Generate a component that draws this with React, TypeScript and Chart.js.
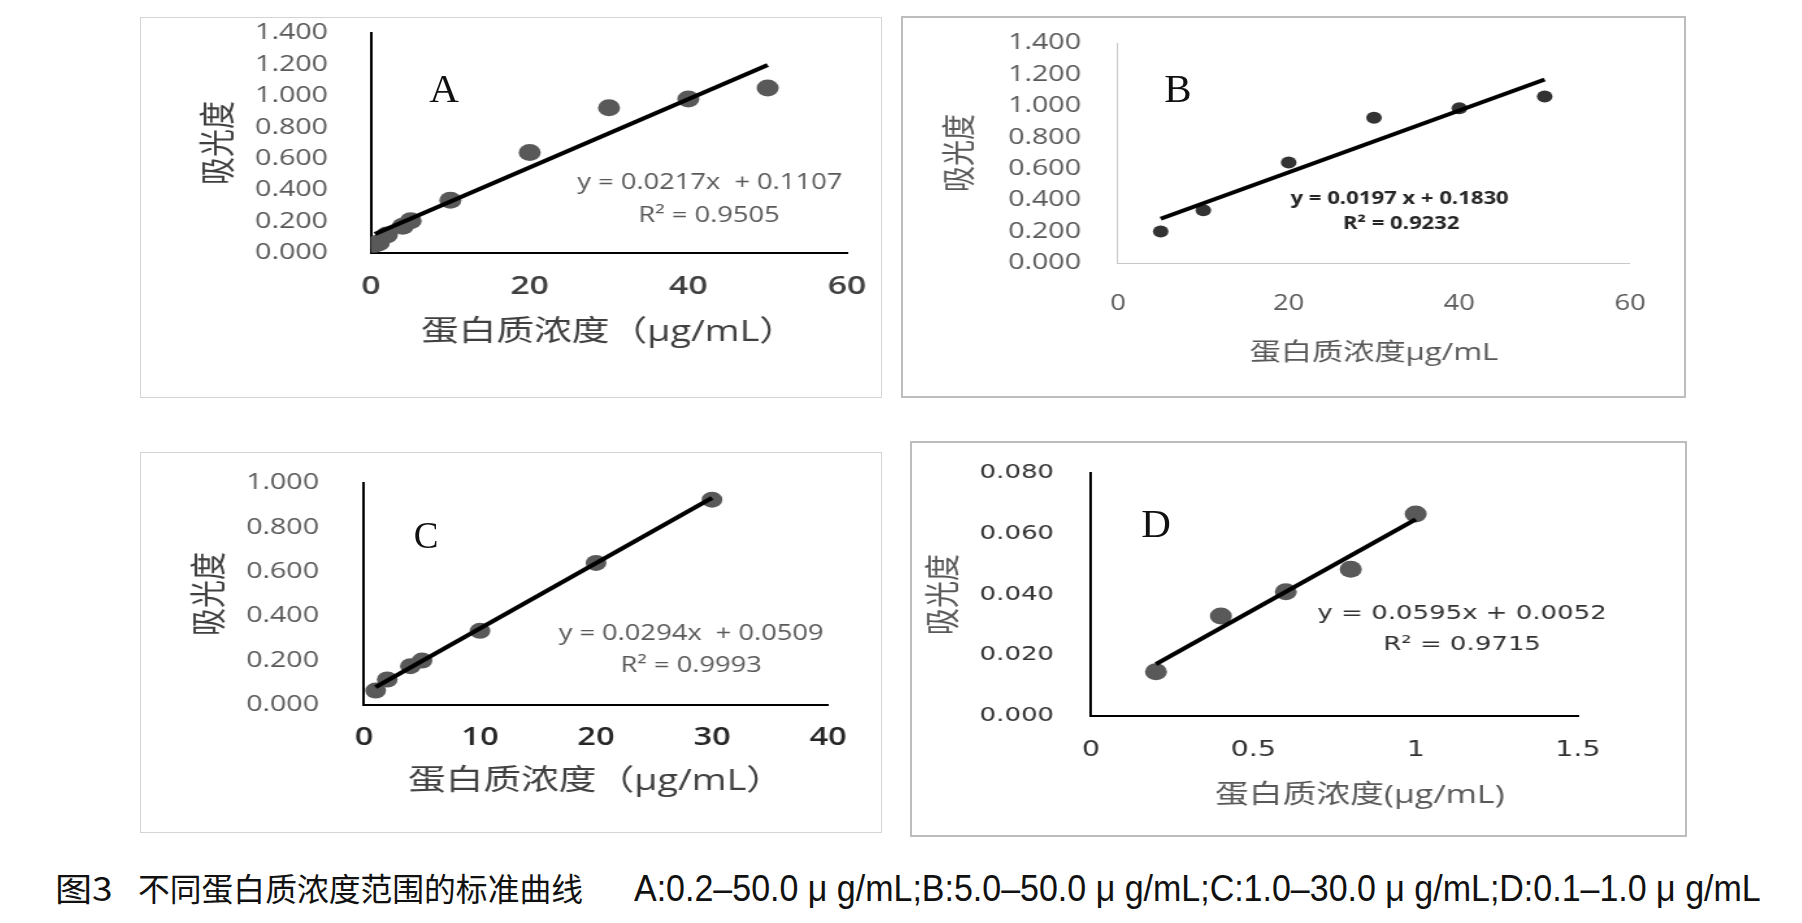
import React, { useEffect, useLayoutEffect, useRef } from 'react';
import { Chart, registerables } from 'chart.js';

Chart.register(...registerables);

// ---------------- data ----------------
const A_CONC = [0.5, 1, 2, 4, 5, 10, 20, 30, 40, 50];
const A_ABS = [0.055, 0.065, 0.115, 0.17, 0.205, 0.335, 0.64, 0.925, 0.98, 1.05];
const A_FIT_X = [0.5, 50];
const A_FIT_Y = [0.1216, 1.1957];
const A_X_TICKS = [0, 20, 40, 60];
const A_Y_TICKS = [0, 0.2, 0.4, 0.6, 0.8, 1.0, 1.2, 1.4];
const A_EQ = ['y = 0.0217x  + 0.1107', 'R² = 0.9505'];

const B_CONC = [5, 10, 20, 30, 40, 50];
const B_ABS = [0.2, 0.335, 0.64, 0.925, 0.985, 1.06];
const B_FIT_X = [5, 50];
const B_FIT_Y = [0.2815, 1.168];
const B_X_TICKS = [0, 20, 40, 60];
const B_Y_TICKS = [0, 0.2, 0.4, 0.6, 0.8, 1.0, 1.2, 1.4];
const B_EQ = ['y = 0.0197 x + 0.1830', 'R² = 0.9232'];

const C_CONC = [1, 2, 4, 5, 10, 20, 30];
const C_ABS = [0.065, 0.115, 0.175, 0.2, 0.334, 0.64, 0.925];
const C_FIT_X = [1, 30];
const C_FIT_Y = [0.0803, 0.9329];
const C_X_TICKS = [0, 10, 20, 30, 40];
const C_Y_TICKS = [0, 0.2, 0.4, 0.6, 0.8, 1.0];
const C_EQ = ['y = 0.0294x  + 0.0509', 'R² = 0.9993'];

const D_CONC = [0.2, 0.4, 0.6, 0.8, 1.0];
const D_ABS = [0.0146, 0.0329, 0.0409, 0.0483, 0.0665];
const D_FIT_X = [0.2, 1.0];
const D_FIT_Y = [0.0171, 0.0647];
const D_X_TICKS = [0, 0.5, 1, 1.5];
const D_Y_TICKS = [0, 0.02, 0.04, 0.06, 0.08];
const D_EQ = ['y = 0.0595x + 0.0052', 'R² = 0.9715'];

const Y_TITLE = '吸光度';
const X_TITLE_AC = '蛋白质浓度（μg/mL）';
const X_TITLE_B = '蛋白质浓度μg/mL';
const X_TITLE_D = '\u2003\u2002蛋白质浓度(μg/mL)';

const CAPTION_FIG = '图3';
const CAPTION_TITLE = '不同蛋白质浓度范围的标准曲线';
const CAPTION_RANGES = 'A:0.2–50.0 μ g/mL;B:5.0–50.0 μ g/mL;C:1.0–30.0 μ g/mL;D:0.1–1.0 μ g/mL';

// ---------------- layout / style ----------------
const STRETCH = 1.3; // the chart pictures are stretched horizontally
const SANS = '"Open Sans", "Noto Sans CJK SC", sans-serif';
const DEJ = '"DejaVu Sans", "Noto Sans CJK SC", sans-serif';

type Font = { family: string; size: number; weight?: number; color: string };
type PanelCfg = {
  letter: string; letterX: number; letterY: number; letterSize: number;
  box: number[]; border: string; area: number[];
  xs: number[]; ys: number[]; fitX: number[]; fitY: number[];
  xTicks: number[]; yTicks: number[]; xFmt: (v: number) => string;
  yLabelRight: number; xLabelY: number; yTitleX: number; xTitleY: number;
  yTickFont: Font; xTickFont: Font; yTitleFont: Font; xTitleFont: Font;
  xTitle: string; yTitle: string;
  axisColor: string; axisWidth: number;
  eq: string[]; eqPos: number[][]; eqFont: Font;
  pointColor: string; pointRadius: number; lineWidth: number;
};

const fmtY = (v: number) => Number(v).toFixed(3);
const fmtX = (v: number) => String(Number(v));

const PANELS: PanelCfg[] = [
  {
    letter: 'A', letterX: 444, letterY: 88.5, letterSize: 41,
    box: [140, 17, 882, 398], border: '1px solid #d4d4d4', area: [371, 33, 847, 253],
    xs: A_CONC, ys: A_ABS, fitX: A_FIT_X, fitY: A_FIT_Y,
    xTicks: A_X_TICKS, yTicks: A_Y_TICKS, xFmt: fmtX,
    yLabelRight: 328, xLabelY: 287, yTitleX: 220, xTitleY: 333,
    yTickFont: { family: SANS, size: 22, color: '#595959' },
    xTickFont: { family: SANS, size: 26, weight: 600, color: '#404040' },
    yTitleFont: { family: SANS, size: 28, color: '#404040' },
    xTitleFont: { family: SANS, size: 29, color: '#404040' },
    xTitle: X_TITLE_AC, yTitle: Y_TITLE, axisColor: '#000', axisWidth: 2,
    eq: A_EQ, eqPos: [[42.7, 0.445], [42.6, 0.235]],
    eqFont: { family: SANS, size: 21, color: '#595959' },
    pointColor: '#595959', pointRadius: 8.5, lineWidth: 4,
  },
  {
    letter: 'B', letterX: 1178, letterY: 89, letterSize: 41,
    box: [901, 16, 1686, 398], border: '2px solid #bdbdbd', area: [1118, 43, 1630, 263],
    xs: B_CONC, ys: B_ABS, fitX: B_FIT_X, fitY: B_FIT_Y,
    xTicks: B_X_TICKS, yTicks: B_Y_TICKS, xFmt: fmtX,
    yLabelRight: 1081, xLabelY: 304, yTitleX: 961, xTitleY: 353,
    yTickFont: { family: SANS, size: 22, color: '#595959' },
    xTickFont: { family: SANS, size: 21, color: '#595959' },
    yTitleFont: { family: SANS, size: 26, color: '#595959' },
    xTitleFont: { family: SANS, size: 24, color: '#595959' },
    xTitle: X_TITLE_B, yTitle: Y_TITLE, axisColor: '#c8c8c8', axisWidth: 1,
    eq: B_EQ, eqPos: [[33.0, 0.407], [33.2, 0.248]],
    eqFont: { family: SANS, size: 17, weight: 700, color: '#262626' },
    pointColor: '#333333', pointRadius: 6, lineWidth: 4,
  },
  {
    letter: 'C', letterX: 426, letterY: 536, letterSize: 37,
    box: [140, 452, 882, 833], border: '1px solid #d4d4d4', area: [364, 483, 828, 705],
    xs: C_CONC, ys: C_ABS, fitX: C_FIT_X, fitY: C_FIT_Y,
    xTicks: C_X_TICKS, yTicks: C_Y_TICKS, xFmt: fmtX,
    yLabelRight: 319, xLabelY: 738, yTitleX: 212, xTitleY: 782,
    yTickFont: { family: SANS, size: 22, color: '#595959' },
    xTickFont: { family: SANS, size: 25, weight: 600, color: '#262626' },
    yTitleFont: { family: SANS, size: 28, color: '#404040' },
    xTitleFont: { family: SANS, size: 29, color: '#404040' },
    xTitle: X_TITLE_AC, yTitle: Y_TITLE, axisColor: '#000', axisWidth: 2,
    eq: C_EQ, eqPos: [[28.2, 0.32], [28.2, 0.176]],
    eqFont: { family: SANS, size: 21, color: '#595959' },
    pointColor: '#595959', pointRadius: 8, lineWidth: 4,
  },
  {
    letter: 'D', letterX: 1156, letterY: 524, letterSize: 41,
    box: [910, 441, 1687, 837], border: '2px solid #bdbdbd', area: [1091, 473, 1578, 716],
    xs: D_CONC, ys: D_ABS, fitX: D_FIT_X, fitY: D_FIT_Y,
    xTicks: D_X_TICKS, yTicks: D_Y_TICKS, xFmt: fmtX,
    yLabelRight: 1054, xLabelY: 750, yTitleX: 946, xTitleY: 796,
    yTickFont: { family: DEJ, size: 20, color: '#333333' },
    xTickFont: { family: DEJ, size: 22, color: '#333333' },
    yTitleFont: { family: SANS, size: 27, color: '#595959' },
    xTitleFont: { family: SANS, size: 26, color: '#595959' },
    xTitle: X_TITLE_D, yTitle: Y_TITLE, axisColor: '#000', axisWidth: 2,
    eq: D_EQ, eqPos: [[1.143, 0.0336], [1.143, 0.0234]],
    eqFont: { family: DEJ, size: 20, color: '#333333' },
    pointColor: '#595959', pointRadius: 8.5, lineWidth: 4,
  },
];

const chartFont = (f: Font) => ({ family: f.family, size: f.size, weight: (f.weight ?? 400) as any, lineHeight: 1 });

function Panel({ cfg }: { cfg: PanelCfg }) {
  const ref = useRef<HTMLCanvasElement>(null);
  const [L, T, R, B] = cfg.box;
  const boxW = R - L;
  const ch = B - T;
  const cw = Math.round(boxW / STRETCH);
  const s = boxW / cw;

  useEffect(() => {
    const lx = (x: number) => (x - L) / s;
    const ly = (y: number) => y - T;
    const [aL, aT, aR, aB] = cfg.area;
    const areaLeft = lx(aL);
    const areaRight = lx(aR);
    const areaTop = ly(aT);
    const areaBottom = ly(aB);
    const xAxisH = ch - areaBottom;
    const yGap = areaLeft - lx(cfg.yLabelRight);
    const xGap = ly(cfg.xLabelY) - areaBottom - cfg.xTickFont.size / 2;
    const yTitlePad = lx(cfg.yTitleX) - cfg.yTitleFont.size / 2;
    const xTitlePad = ch - ly(cfg.xTitleY) - cfg.xTitleFont.size / 2;

    const annot = {
      id: 'eqText',
      afterDraw(chart: any) {
        const ctx = chart.ctx;
        const xs = chart.scales.x;
        const ys = chart.scales.y;
        ctx.save();
        ctx.font = `${cfg.eqFont.weight ?? 400} ${cfg.eqFont.size}px ${cfg.eqFont.family}`;
        ctx.fillStyle = cfg.eqFont.color;
        ctx.textAlign = 'center';
        ctx.textBaseline = 'middle';
        cfg.eq.forEach((t, i) => {
          ctx.fillText(t, xs.getPixelForValue(cfg.eqPos[i][0]), ys.getPixelForValue(cfg.eqPos[i][1]));
        });
        ctx.restore();
      },
    };

    const points = cfg.xs.map((x, i) => ({ x, y: cfg.ys[i] }));
    const fit = cfg.fitX.map((x, i) => ({ x, y: cfg.fitY[i] }));

    const chart = new Chart(ref.current as HTMLCanvasElement, {
      type: 'scatter',
      data: {
        datasets: [
          {
            data: fit, showLine: true, borderColor: '#000', borderWidth: cfg.lineWidth,
            pointRadius: 0, fill: false, order: 0,
          } as any,
          {
            data: points, backgroundColor: cfg.pointColor, borderWidth: 0,
            pointRadius: cfg.pointRadius, order: 1,
          } as any,
        ],
      },
      options: {
        animation: false,
        responsive: false,
        devicePixelRatio: 1,
        events: [],
        layout: { padding: { left: 0, top: areaTop, right: cw - areaRight, bottom: 0 } },
        plugins: { legend: { display: false }, tooltip: { enabled: false } },
        scales: {
          x: {
            type: 'linear', position: 'bottom',
            min: cfg.xTicks[0], max: cfg.xTicks[cfg.xTicks.length - 1],
            afterBuildTicks: (sc: any) => { sc.ticks = cfg.xTicks.map((v) => ({ value: v })); },
            afterFit: (sc: any) => { sc.height = xAxisH; },
            grid: { display: true, drawOnChartArea: false, drawTicks: true, tickLength: xGap, tickColor: 'rgba(0,0,0,0)' },
            border: { display: true, color: cfg.axisColor, width: cfg.axisWidth },
            ticks: {
              padding: 0, autoSkip: false, maxRotation: 0, minRotation: 0,
              font: chartFont(cfg.xTickFont), color: cfg.xTickFont.color,
              callback: (v: any) => cfg.xFmt(v),
            },
            title: {
              display: true, text: cfg.xTitle, color: cfg.xTitleFont.color,
              font: chartFont(cfg.xTitleFont), padding: { top: 0, bottom: xTitlePad },
            },
          },
          y: {
            type: 'linear', position: 'left',
            min: cfg.yTicks[0], max: cfg.yTicks[cfg.yTicks.length - 1],
            afterBuildTicks: (sc: any) => { sc.ticks = cfg.yTicks.map((v) => ({ value: v })); },
            afterFit: (sc: any) => { sc.width = areaLeft; },
            grid: { display: true, drawOnChartArea: false, drawTicks: true, tickLength: yGap, tickColor: 'rgba(0,0,0,0)' },
            border: { display: true, color: cfg.axisColor, width: cfg.axisWidth },
            ticks: {
              padding: 0, autoSkip: false,
              font: chartFont(cfg.yTickFont), color: cfg.yTickFont.color,
              callback: (v: any) => fmtY(v),
            },
            title: {
              display: true, text: cfg.yTitle, color: cfg.yTitleFont.color,
              font: chartFont(cfg.yTitleFont), padding: { top: yTitlePad, bottom: 0 },
            },
          },
        },
      } as any,
      plugins: [annot],
    });
    return () => chart.destroy();
  }, [cfg]);

  const ls = cfg.letterSize;
  return (
    <>
      <div style={{ position: 'absolute', left: L, top: T, width: boxW, height: ch, boxSizing: 'border-box', border: cfg.border }} />
      <canvas
        ref={ref}
        width={cw}
        height={ch}
        style={{ position: 'absolute', left: L, top: T, width: cw, height: ch, transform: `scaleX(${s})`, transformOrigin: '0 0' }}
      />
      <div
        style={{
          position: 'absolute', left: cfg.letterX - 50, width: 100, top: cfg.letterY - 0.5065 * ls,
          textAlign: 'center', fontFamily: '"Liberation Serif", "Times New Roman", serif',
          fontSize: ls, lineHeight: `${ls}px`, color: '#111',
        }}
      >
        {cfg.letter}
      </div>
    </>
  );
}

function FitText({ text, x0, x1, cy, size, family, centerRatio, weight }: { text: string; x0: number; x1: number; cy: number; size: number; family: string; centerRatio: number; weight?: number }) {
  const ref = useRef<HTMLSpanElement>(null);
  useLayoutEffect(() => {
    const el = ref.current;
    if (!el) return;
    const w = el.offsetWidth;
    if (w > 0) el.style.transform = `scaleX(${(x1 - x0) / w})`;
  }, [text]);
  return (
    <span
      ref={ref}
      style={{
        position: 'absolute', left: x0, top: cy - size * centerRatio, fontSize: size,
        lineHeight: `${size}px`, whiteSpace: 'nowrap', transformOrigin: '0 50%',
        fontFamily: family, color: '#111', fontWeight: weight ?? 400,
      }}
    >
      {text}
    </span>
  );
}

export default function App() {
  const capFamily = '"Liberation Sans", Arial, "Noto Sans CJK SC", sans-serif';
  const cjkFamily = '"Noto Sans CJK SC", "Liberation Sans", sans-serif';
  return (
    <div style={{ position: 'absolute', left: 0, top: 0, width: 1802, height: 923, background: '#fff', overflow: 'hidden' }}>
      {PANELS.map((p) => (
        <Panel key={p.letter} cfg={p} />
      ))}
      <FitText text={CAPTION_FIG} x0={55} x1={113} cy={889} size={32} family={cjkFamily} centerRatio={0.55} />
      <FitText text={CAPTION_TITLE} x0={138} x1={583} cy={889} size={32} family={cjkFamily} centerRatio={0.55} />
      <FitText text={CAPTION_RANGES} x0={634} x1={1761} cy={889} size={36} family={capFamily} centerRatio={0.49} />
    </div>
  );
}
